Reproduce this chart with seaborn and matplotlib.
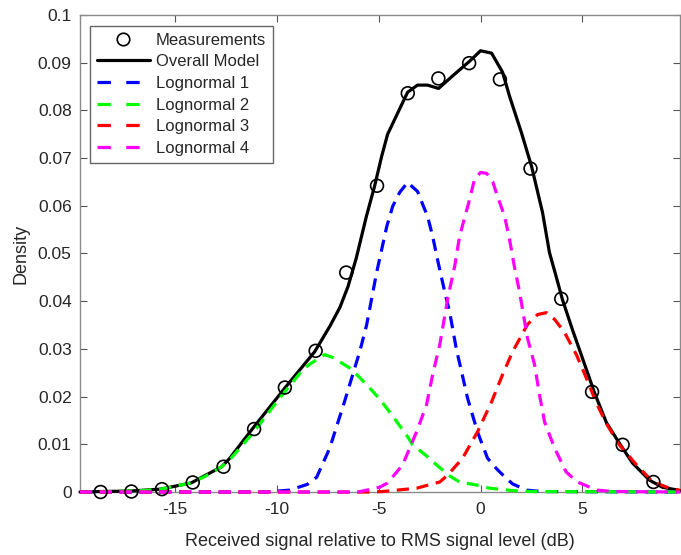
import matplotlib
matplotlib.use("Agg")
import matplotlib.pyplot as plt
from matplotlib.lines import Line2D
from matplotlib.ticker import FuncFormatter
import seaborn as sns
import pandas as pd

# ---- data ----
meas_x = [-18.64, -17.13, -15.63, -14.12, -12.61, -11.11, -9.60, -8.09, -6.59, -5.08,
          -3.57, -2.07, -0.56, 0.95, 2.45, 3.96, 5.47, 6.97, 8.48]
meas_y = [0.0, 0.0001, 0.0006, 0.0020, 0.0053, 0.0132, 0.0219, 0.0296, 0.0460, 0.0642,
          0.0836, 0.0867, 0.0899, 0.0865, 0.0678, 0.0405, 0.0210, 0.0099, 0.0021]

model_x = [-19.65, -18.7, -17.2, -15.7, -14.2, -12.7, -12.3, -11.2, -9.6, -8.14, -7.4, -6.9,
           -6.5, -6.1, -5.6, -5.2, -4.85, -4.56, -3.97, -3.58, -3.09, -2.6, -2.06, -1.3,
           -0.54, 0.0, 0.54, 1.08, 1.42, 2.0, 2.5, 3.04, 3.38, 3.72, 4.02, 4.51, 5.2, 5.59,
           6.18, 6.8, 7.45, 8.28, 8.92, 9.8]
model_y = [0.0, 0.0001, 0.0002, 0.0006, 0.0019, 0.0053, 0.0071, 0.0132, 0.0218, 0.0294,
           0.0347, 0.0387, 0.0431, 0.0490, 0.0578, 0.0641, 0.0704, 0.0750, 0.0803, 0.0838,
           0.0853, 0.0853, 0.0846, 0.0875, 0.0903, 0.0925, 0.0920, 0.0880, 0.0830, 0.0754,
           0.0683, 0.0586, 0.0502, 0.0450, 0.0403, 0.0340, 0.0256, 0.0208, 0.0145, 0.0103,
           0.0061, 0.0025, 0.0010, 0.0003]

ln1_x = [-19.65, -10.5, -9.36, -8.5, -8.04, -7.4, -6.67, -5.93, -5.59, -5.1, -4.6, -4.31,
         -3.97, -3.58, -3.09, -2.84, -2.6, -2.35, -2.1, -1.76, -1.52, -1.18, -0.93, -0.64,
         -0.15, 0.34, 0.8, 1.18, 1.57, 2.25, 3.0, 9.8]
ln1_y = [0.0, 0.0, 0.0004, 0.0016, 0.0031, 0.0092, 0.0190, 0.0294, 0.0350, 0.0460, 0.0557,
         0.0599, 0.0628, 0.0649, 0.0630, 0.0603, 0.0578, 0.0536, 0.0485, 0.0420, 0.0378,
         0.0298, 0.0252, 0.0197, 0.0126, 0.0071, 0.0048, 0.0032, 0.0017, 0.0004, 0.0001, 0.0]

ln2_x = [-19.65, -18.0, -16.5, -15.7, -14.2, -13.5, -12.7, -12.3, -11.2, -9.85, -8.73, -8.38,
         -7.65, -7.25, -6.42, -5.93, -5.44, -4.95, -4.36, -3.58, -3.33, -2.6, -2.16, -1.6,
         -1.03, 0.0, 0.44, 1.57, 2.5, 9.8]
ln2_y = [0.0, 0.0001, 0.0003, 0.0006, 0.0019, 0.0033, 0.0053, 0.0068, 0.0122, 0.0197, 0.0256,
         0.0268, 0.0288, 0.0282, 0.0260, 0.0240, 0.0218, 0.0195, 0.0162, 0.0116, 0.0099,
         0.0074, 0.0057, 0.0036, 0.0021, 0.0013, 0.0008, 0.0003, 0.0001, 0.0]

ln3_x = [-19.65, -5.5, -4.8, -3.14, -2.0, -1.6, -0.88, -0.15, 0.54, 1.08, 1.57, 2.3, 2.8,
         3.23, 3.63, 4.1, 4.7, 5.1, 5.7, 6.18, 6.8, 7.65, 8.43, 9.26, 9.8]
ln3_y = [0.0, 0.0, 0.0001, 0.0008, 0.0021, 0.0036, 0.0071, 0.0126, 0.0189, 0.0246, 0.0294,
         0.0351, 0.0372, 0.0376, 0.0362, 0.0336, 0.0288, 0.0248, 0.0185, 0.0143, 0.0099,
         0.0057, 0.0022, 0.0008, 0.0003]

ln4_x = [-19.65, -6.0, -4.95, -4.56, -3.82, -3.48, -3.14, -2.65, -2.35, -2.0, -1.6, -1.27,
         -1.03, -0.54, -0.3, 0.0, 0.3, 0.6, 0.83, 1.18, 1.42, 1.67, 1.91, 2.3, 2.65, 2.89,
         3.14, 3.63, 4.2, 4.75, 5.7, 6.5, 9.8]
ln4_y = [0.0, 0.0, 0.0010, 0.0019, 0.0057, 0.0092, 0.0126, 0.0183, 0.0246, 0.0309, 0.0408,
         0.0473, 0.0536, 0.0613, 0.0655, 0.0670, 0.0668, 0.0650, 0.0620, 0.0578, 0.0530,
         0.0470, 0.0420, 0.0323, 0.0267, 0.0204, 0.0147, 0.0092, 0.0042, 0.0021, 0.0004,
         0.0001, 0.0]

labels = ["Measurements", "Overall Model", "Lognormal 1", "Lognormal 2", "Lognormal 3", "Lognormal 4"]
comp_colors = ["#0000ff", "#00ff00", "#ff0000", "#ff00ff"]
x_ticks = [-15, -10, -5, 0, 5]
y_ticks = [0, 0.01, 0.02, 0.03, 0.04, 0.05, 0.06, 0.07, 0.08, 0.09, 0.1]

# ---- style ----
sns.set_style("ticks")
plt.rcParams["font.family"] = ["Liberation Sans", "DejaVu Sans"]
plt.rcParams["axes.unicode_minus"] = False

fig = plt.figure(figsize=(6.81, 5.55), dpi=100)
ax = fig.add_axes([0.1175, 0.1135, 0.8815, 0.8595])

DASH = (0, (3.8, 2.4))
LW = 2.3

sns.scatterplot(x=meas_x, y=meas_y, ax=ax, marker="o", s=85, facecolor="none",
                edgecolor="black", linewidth=1.2, zorder=10, clip_on=False)
sns.lineplot(x=model_x, y=model_y, ax=ax, color="black", lw=LW, sort=False,
             estimator=None, clip_on=False, zorder=3)
for xs, ys, c in zip([ln1_x, ln2_x, ln3_x, ln4_x], [ln1_y, ln2_y, ln3_y, ln4_y], comp_colors):
    sns.lineplot(x=xs, y=ys, ax=ax, color=c, lw=LW, linestyle=DASH, sort=False,
                 estimator=None, clip_on=False, zorder=4)

ax.set_xlim(-19.65, 9.8)
ax.set_ylim(0, 0.1)
ax.set_xticks(x_ticks)
ax.set_yticks(y_ticks)
ax.yaxis.set_major_formatter(FuncFormatter(lambda v, p: "%g" % round(v, 3)))

tick_col = "#262626"
ax.tick_params(direction="in", length=5, width=0.8, color="#555555", labelcolor=tick_col,
               labelsize=12.5, top=True, right=True, pad=6)
ax.tick_params(axis="x", pad=7)
for s in ax.spines.values():
    s.set_color("#8a8a8a")
    s.set_linewidth(1.0)

ax.set_xlabel("Received signal relative to RMS signal level (dB)", fontsize=13, color=tick_col,
              labelpad=12)
ax.set_ylabel("Density", fontsize=13, color=tick_col, labelpad=6)

handles = [
    Line2D([], [], color="black", marker="o", markersize=9, markerfacecolor="none",
           markeredgewidth=1.2, linestyle="none"),
    Line2D([], [], color="black", lw=LW),
]
for c in comp_colors:
    handles.append(Line2D([], [], color=c, lw=LW, linestyle=(0, (4.2, 4.8))))
leg = ax.legend(handles, labels, loc="upper left", bbox_to_anchor=(0.0166, 0.977),
                borderaxespad=0, fontsize=12, handlelength=3.2, handletextpad=0.35,
                labelspacing=0.4, borderpad=0.4, frameon=True, fancybox=False)
leg.get_frame().set_edgecolor("#404040")
leg.get_frame().set_linewidth(1.0)

fig.savefig("out.png", dpi=100)
